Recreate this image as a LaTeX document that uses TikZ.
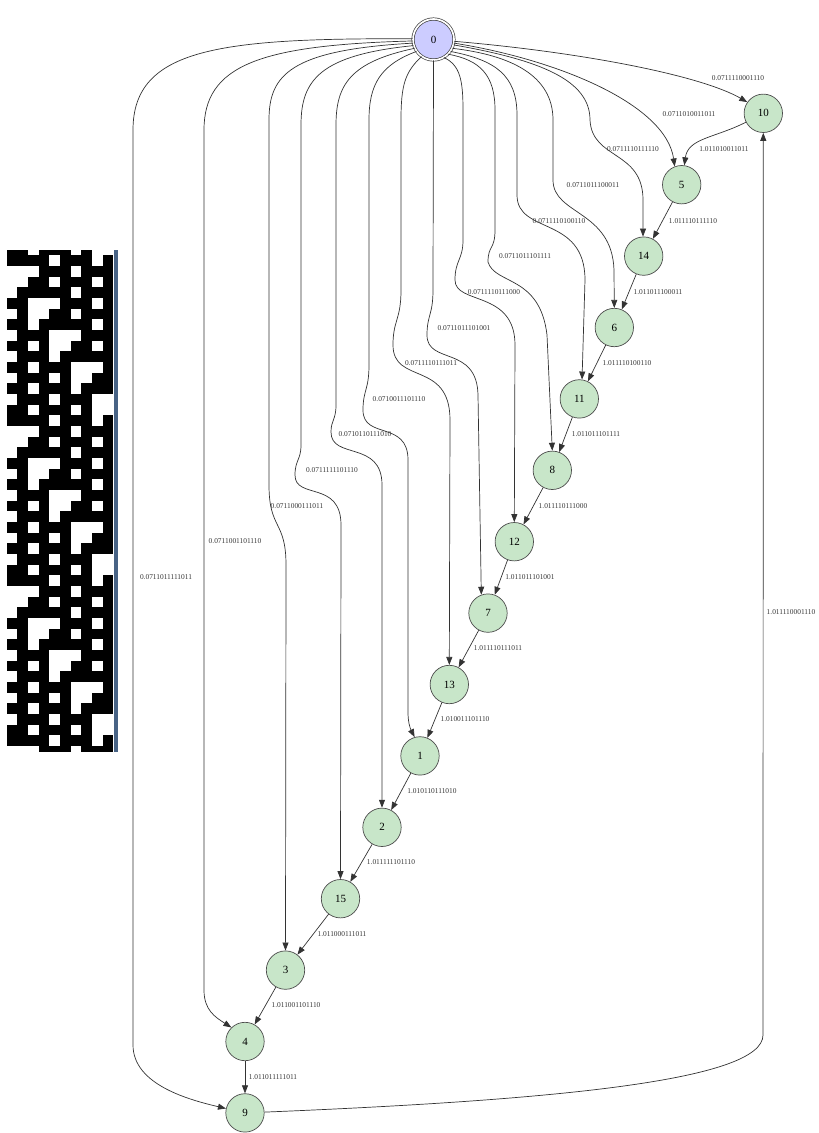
\documentclass[tikz,border=0pt]{standalone}
\usepackage{fontspec}
\setmainfont{Liberation Serif}
\usetikzlibrary{arrows.meta}

\definecolor{startfill}{RGB}{204,204,255}
\definecolor{statefill}{RGB}{200,230,201}
\definecolor{barblue}{RGB}{72,99,133}

\begin{document}
\begin{tikzpicture}[
    x=1pt, y=-1pt,
    state/.style={circle, draw=black!70, line width=0.7pt, fill=statefill, minimum size=38.4pt, inner sep=0pt, font=\fontsize{11}{11}\selectfont},
    start/.style={circle, draw=black!75, line width=0.7pt, double=white, double distance=1.7pt, fill=startfill, minimum size=41pt, inner sep=0pt, font=\fontsize{11}{11}\selectfont},
    arr/.style={-{Triangle[length=8pt, width=6pt]}, draw=black!80, line width=0.7pt},
    lbl/.style={font=\fontsize{7.4}{8}\selectfont, text=black!80, inner sep=0pt},
]
\useasboundingbox (0,0) rectangle (819,1133);

% bit strip on the left
\begin{scope}
  \clip (6.67,250) rectangle (113.33,751.67);
  \foreach \cols [count=\i from 0] in {{0,1,3,4,5,7},{0,1,2,3,5,6,7,9},{3,4,5,7,8,9},{2,3,5,6,7,9},
      {1,2,3,4,5,7,8,9},{0,1,5,6,7,9},{1,4,5,7,8,9},{0,1,3,4,5,6,7,9},{1,2,3,7,8,9},{0,1,3,6,7,9},
      {1,2,3,5,6,7,8,9},{0,1,3,4,5,9},{1,2,3,5,8,9},{0,1,3,4,5,7,8,9},{1,2,3,5,6,7}}
    \foreach \k in {0,15,30,45}
      \foreach \c in \cols
        \fill ({6.67+10.667*\c},{244.67+10.667*(\i+\k)}) rectangle ++(10.75,10.75);
\end{scope}
\fill[barblue] (114.3,250) rectangle (118.3,751.67);

\node[start] (n0)  at (433.5,39.5)  {0};
\node[state] (n10) at (763.3,113.3) {10};
\node[state] (n5)  at (681.7,184.7) {5};
\node[state] (n14) at (643.7,256.1) {14};
\node[state] (n6)  at (614.3,327.5) {6};
\node[state] (n11) at (579.3,398.9) {11};
\node[state] (n8)  at (552.3,470.3) {8};
\node[state] (n12) at (514.3,541.7) {12};
\node[state] (n7)  at (488.0,613.1) {7};
\node[state] (n13) at (449.3,684.5) {13};
\node[state] (n1)  at (420.0,755.9) {1};
\node[state] (n2)  at (382.0,827.3) {2};
\node[state] (n15) at (340.5,898.7) {15};
\node[state] (n3)  at (285.5,970.1) {3};
\node[state] (n4)  at (245.0,1041.5) {4};
\node[state] (n9)  at (245.0,1112.9) {9};

% 0 -> every state
\draw[arr] (n0.-5) .. controls (580,52) and (700,75) .. (n10.145)
    node[lbl] (a10) at (738,78) {0.0711110001110};
\draw[arr] (n0.-10) .. controls (560,60) and (666,105) .. (n5.111)
    node[lbl] (a5) at (689,114) {0.0711010011011};
\draw[arr] (n0.-15) .. controls (540,60) and (590,80) .. (590,120)
    .. controls (592,160) and (643,150) .. (643,200) -- (n14.92)
    node[lbl] (a14) at (633,149) {0.0711110111110};
\draw[arr] (n0.-25) .. controls (510,55) and (553,75) .. (553,120) -- (553,180)
    .. controls (553,215) and (612,210) .. (614,270) -- (n6.90)
    node[lbl] (a6) at (593,185) {0.0711011100011};
\draw[arr] (n0.-35) .. controls (495,60) and (517,75) .. (517,115) -- (517,195)
    .. controls (517,235) and (585,215) .. (585,280) -- (n11.82)
    node[lbl] (a11) at (559,221) {0.0711110100110};
\draw[arr] (n0.-45) .. controls (480,60) and (495,75) .. (495,110) -- (495,230)
    .. controls (495,250) and (488,245) .. (488,262) .. controls (495,285) and (540,275) .. (547,335) -- (n8.90)
    node[lbl] (a8) at (525,256) {0.0711011101111};
\draw[arr] (n0.-60) .. controls (460,65) and (463,80) .. (463,110) -- (463,240)
    .. controls (463,260) and (455,260) .. (455,280) .. controls (455,305) and (515,290) .. (515,345) -- (n12.90)
    node[lbl] (a12) at (494,292) {0.0711110111000};
\draw[arr] (n0.south) -- (433,290) .. controls (433,315) and (427,315) .. (427,335)
    .. controls (427,365) and (477,345) .. (478,395) -- (n7.110)
    node[lbl] (a7) at (464,328) {0.0711011101001};
\draw[arr] (n0.235) .. controls (405,72) and (401,85) .. (401,120) -- (401,290)
    .. controls (401,320) and (393,320) .. (393,345) .. controls (393,385) and (450,360) .. (450,420) -- (n13.90)
    node[lbl] (a13) at (431,363) {0.0711110111011};
\draw[arr] (n0.215) .. controls (380,65) and (369,85) .. (369,120) -- (369,365)
    .. controls (369,390) and (363,390) .. (363,410) .. controls (363,440) and (408,420) .. (408,460)
    -- (408,712) .. controls (408,722) and (410,728) .. (n1.106)
    node[lbl] (a1) at (399,399) {0.0710011101110};
\draw[arr] (n0.205) .. controls (350,62) and (336,85) .. (336,125) -- (336,405)
    .. controls (336,420) and (331,420) .. (331,432) .. controls (331,460) and (382,440) .. (382,485) -- (n2.90)
    node[lbl] (a2) at (365,434) {0.0710110111010};
\draw[arr] (n0.197) .. controls (320,55) and (301,80) .. (301,125) -- (301,445)
    .. controls (301,460) and (295,460) .. (295,475) .. controls (295,500) and (341,480) .. (341,525) -- (n15.90)
    node[lbl] (a15) at (332,470) {0.0711111101110};
\draw[arr] (n0.190) .. controls (290,50) and (269,75) .. (269,120) -- (269,485)
    .. controls (269,530) and (286,520) .. (286,565) -- (n3.90)
    node[lbl] (a3) at (297,506) {0.0711000111011};
\draw[arr] (n0.184) .. controls (260,45) and (204,65) .. (204,130) -- (204,990)
    .. controls (204,1010) and (215,1017) .. (n4.134)
    node[lbl] (a4) at (235,541) {0.0711001101110};
\draw[arr] (n0.178) .. controls (220,38) and (133,48) .. (133,130) -- (133,1045)
    .. controls (133,1085) and (190,1100) .. (n9.167)
    node[lbl] (a9) at (166,577) {0.0711011111011};

% the chain
\draw[arr] (n10) .. controls (715,138) and (688,138) .. (n5)
    node[lbl] (b5) at (724,149) {1.011010011011};
\draw[arr] (n5) -- (n14)   node[lbl] (b14) at (693,221)  {1.011110111110};
\draw[arr] (n14) -- (n6)   node[lbl] (b6)  at (658,292)  {1.011011100011};
\draw[arr] (n6) -- (n11)   node[lbl] (b11) at (627,363)  {1.011110100110};
\draw[arr] (n11) -- (n8)   node[lbl] (b8)  at (596,434)  {1.011011101111};
\draw[arr] (n8) -- (n12)   node[lbl] (b12) at (563,506)  {1.011110111000};
\draw[arr] (n12) -- (n7)   node[lbl] (b7)  at (530,577)  {1.011011101001};
\draw[arr] (n7) -- (n13)   node[lbl] (b13) at (498,648)  {1.011110111011};
\draw[arr] (n13) -- (n1)   node[lbl] (b1)  at (465,719)  {1.010011101110};
\draw[arr] (n1) -- (n2)    node[lbl] (b2)  at (432,791)  {1.010110111010};
\draw[arr] (n2) -- (n15)   node[lbl] (b15) at (391,862)  {1.011111101110};
\draw[arr] (n15) -- (n3)   node[lbl] (b3)  at (342,934)  {1.011000111011};
\draw[arr] (n3) -- (n4)    node[lbl] (b4)  at (296,1005) {1.011001101110};
\draw[arr] (n4) -- (n9)    node[lbl] (b9)  at (273,1077) {1.011011111011};
\draw[arr] (n9) .. controls (560,1100) and (763,1080) .. (763,1035) -- (n10)
    node[lbl] (b10) at (791,612) {1.011110001110};

\end{tikzpicture}
\end{document}
